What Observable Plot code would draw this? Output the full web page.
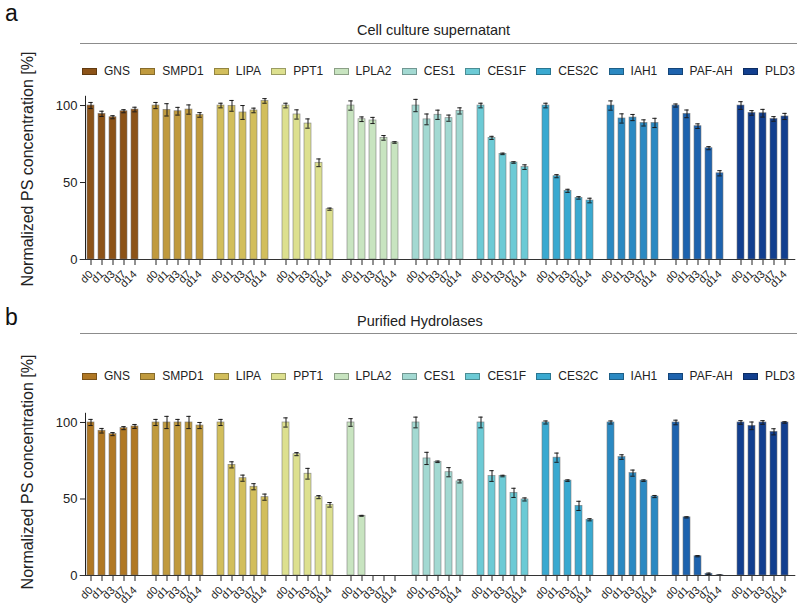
<!DOCTYPE html>
<html><head><meta charset="utf-8">
<script src="https://cdn.jsdelivr.net/npm/d3@7"></script>
<script src="https://cdn.jsdelivr.net/npm/@observablehq/plot@0.6"></script>
<style>
body{margin:0;background:#fff;font-family:"Liberation Sans",Arial,Helvetica,sans-serif;}
#root{position:relative;width:800px;height:607px;overflow:hidden;}
.abs{position:absolute;}
.letter{font-size:23px;color:#111;line-height:1;}
.title{font-size:14.5px;color:#222;transform:translateY(-50%);white-space:nowrap;line-height:1;}
.hr{height:0;border-top:1.4px solid #8c8c8c;}
.legend{display:flex;justify-content:space-between;align-items:center;transform:translateY(-50%);font-size:12px;color:#222;line-height:1;}
.item{display:flex;align-items:center;}
.sw{width:15px;height:7px;margin-right:7px;box-sizing:border-box;border:0.8px solid rgba(0,0,0,0.3);}
.ylab{font-size:16px;color:#222;white-space:nowrap;line-height:1;transform:translate(-50%,-50%) rotate(-90deg);}
svg [aria-label^="x-axis"] text{font-size:11px;}
</style>
</head><body><div id="root"></div>
<script>
const groups = ["GNS","SMPD1","LIPA","PPT1","LPLA2","CES1","CES1F","CES2C","IAH1","PAF-AH","PLD3"];
const days = ["d0","d1","d3","d7","d14"];
const colorsA = ["#8c5318","#c09a3e","#d2be5c","#dde08f","#c8e4c0","#a3d9d2","#6ccad5","#3aa9d0","#2b89c2","#1e63ae","#123f8f"];
const colorsB = ["#b07824","#c09a3e","#d2be5c","#dde08f","#c8e4c0","#a3d9d2","#6ccad5","#3aa9d0","#2b89c2","#1e63ae","#123f8f"];

const supernatantMean = [
  [100, 94.6, 92.4, 96.3, 97.4],
  [100, 97.2, 96.3, 97.4, 93.9],
  [100, 99.8, 95.5, 96.8, 103],
  [100, 94.2, 88.3, 62.8, 32.7],
  [100, 91.1, 90.3, 79.0, 76.0],
  [100, 91.0, 94.0, 91.8, 96.5],
  [100, 79.0, 68.6, 63.0, 60.0],
  [100, 54.1, 44.6, 40.0, 38.3],
  [100, 91.6, 92.2, 88.7, 88.7],
  [100, 94.6, 86.6, 72.3, 56.0],
  [100, 95.2, 95.0, 91.3, 92.9]
];
const supernatantErr = [
  [2.0, 1.7, 1.0, 1.0, 1.5],
  [2.0, 4.0, 2.5, 3.0, 1.5],
  [1.5, 3.5, 4.5, 1.5, 1.5],
  [1.5, 3.0, 3.0, 2.5, 0.7],
  [3.0, 1.5, 2.0, 1.5, 0.5],
  [4.0, 3.5, 3.0, 2.0, 2.0],
  [1.5, 1.0, 0.5, 0.5, 1.5],
  [1.5, 1.0, 1.0, 0.8, 1.5],
  [3.0, 3.0, 2.0, 2.0, 3.0],
  [1.0, 2.5, 1.5, 1.0, 1.7],
  [2.5, 1.5, 2.5, 1.5, 2.0]
];
const purifiedMean = [
  [100, 94.6, 92.4, 96.3, 97.4],
  [100, 100, 100, 100, 98.0],
  [100, 72.3, 63.6, 58.0, 51.2],
  [100, 79.3, 66.5, 51.2, 46.2],
  [100, 39.0, 0, 0, 0],
  [100, 76.5, 74.3, 67.5, 61.5],
  [100, 65.0, 65.0, 54.0, 49.7],
  [100, 77.0, 62.0, 45.5, 36.4],
  [100, 77.4, 66.9, 62.0, 51.6],
  [100, 38.0, 12.6, 1.1, 0.2],
  [100, 97.8, 100, 93.9, 100]
];
const purifiedErr = [
  [2.0, 1.5, 1.0, 1.0, 1.3],
  [2.0, 4.0, 2.0, 4.0, 2.0],
  [2.0, 2.0, 2.0, 2.0, 2.0],
  [3.0, 1.0, 3.5, 1.0, 1.5],
  [2.5, 0.3, 0, 0, 0],
  [3.5, 4.0, 0.5, 3.0, 1.0],
  [3.5, 3.5, 0.5, 3.0, 1.0],
  [1.0, 3.0, 0.5, 3.0, 0.7],
  [1.0, 1.5, 2.0, 0.5, 0.7],
  [1.5, 0.4, 0.4, 0.5, 0.2],
  [1.2, 2.5, 1.2, 2.0, 0.5]
];

const root = document.getElementById("root");
function el(cls, css, html) {
  const d = document.createElement("div");
  d.className = "abs " + cls;
  Object.assign(d.style, css);
  if (html != null) d.textContent = html;
  root.appendChild(d);
  return d;
}

function panel(opts) {
  const rows = groups.flatMap((g, i) => days.map((d, j) => ({group: g, day: d, v: opts.means[i][j], e: opts.errs[i][j]})));
  const chart = Plot.plot({
    width: 800,
    height: opts.height,
    marginLeft: 82,
    marginRight: 7,
    marginTop: opts.marginTop,
    marginBottom: opts.marginBottom,
    style: {background: "none", fontFamily: '"Liberation Sans",Arial,Helvetica,sans-serif', fontSize: "13px", color: "#222", overflow: "visible"},
    facet: {data: rows, x: "group"},
    fx: {domain: groups, paddingInner: 0.16, paddingOuter: 0, axis: null, label: null},
    x: {domain: days, paddingInner: 0.4, paddingOuter: 0.07, tickRotate: -45, tickSize: 6, tickPadding: 7, label: null},
    y: {domain: [0, 106], ticks: [0, 50, 100], line: true, tickSize: 5, tickPadding: 3, label: null},
    color: {domain: groups, range: opts.colors},
    marks: [
      Plot.barY(rows, {x: "day", y: "v", fill: "group", stroke: "#777", strokeWidth: 0.7, strokeOpacity: 0.8}),
      Plot.ruleX(rows, {filter: d => d.e > 0, x: "day", y1: d => d.v - d.e, y2: d => d.v + d.e, stroke: "#1a1a1a", strokeWidth: 1}),
      Plot.tickY(rows, {filter: d => d.e > 0, x: "day", y: d => d.v + d.e, insetLeft: 1.3, insetRight: 1.3, stroke: "#1a1a1a", strokeWidth: 1}),
      Plot.tickY(rows, {filter: d => d.e > 0, x: "day", y: d => d.v - d.e, insetLeft: 1.3, insetRight: 1.3, stroke: "#1a1a1a", strokeWidth: 1}),
      Plot.ruleY([0], {insetLeft: -5.3, insetRight: -5.3, stroke: "#333"})
    ]
  });
  chart.style.position = "absolute";
  chart.style.left = "0px";
  chart.style.top = opts.top + "px";
  root.appendChild(chart);

  el("letter", {left: "5px", top: opts.letterTop + "px"}, opts.letter);
  el("title", {left: "357px", top: opts.titleY + "px"}, opts.title);
  el("hr", {left: "80px", width: "717px", top: opts.hrY + "px"});
  const lg = el("legend", {left: "82px", width: "713px", top: opts.legendY + "px"});
  groups.forEach((g, i) => {
    const it = document.createElement("div");
    it.className = "item";
    const sw = document.createElement("div");
    sw.className = "sw";
    sw.style.background = opts.colors[i];
    const tx = document.createElement("span");
    tx.textContent = g;
    it.appendChild(sw); it.appendChild(tx);
    lg.appendChild(it);
  });
  el("ylab", {left: "28px", top: opts.ylabY + "px"}, "Normalized PS concentration [%]");
}

panel({means: supernatantMean, errs: supernatantErr, colors: colorsA, top: 90, height: 210, marginTop: 5.8, marginBottom: 41,
  letter: "a", letterTop: 2, title: "Cell culture supernatant", titleY: 30, hrY: 43, legendY: 71, ylabY: 169});
panel({means: purifiedMean, errs: purifiedErr, colors: colorsB, top: 405, height: 202, marginTop: 7.8, marginBottom: 32,
  letter: "b", letterTop: 306, title: "Purified Hydrolases", titleY: 321, hrY: 333, legendY: 376, ylabY: 472});
</script>
</body></html>
